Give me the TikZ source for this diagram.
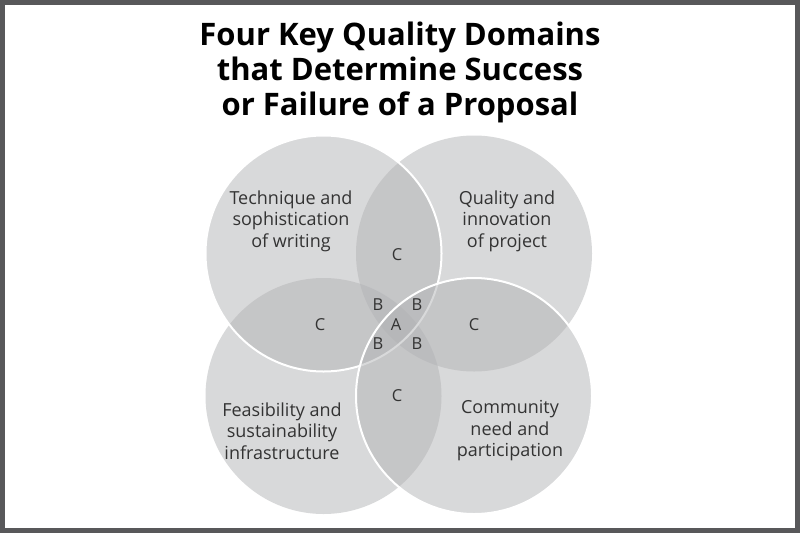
\documentclass[tikz,border=0pt]{standalone}
\usepackage{fontspec}
\setmainfont{Open Sans}
\usetikzlibrary{positioning}
\definecolor{framegray}{HTML}{58585A}
\definecolor{ringgray}{HTML}{B3B4B6}
\definecolor{labelgray}{HTML}{333333}

\begin{document}
\begin{tikzpicture}[x=1pt, y=-1pt,
  qualring/.style={circle, minimum size=236pt, inner sep=0pt,
                   fill=ringgray, fill opacity=0.5},
  edgedring/.style={qualring, draw=white, line width=2pt},
  lbl/.style={align=center, text=labelgray,
              font=\fontsize{18}{21.5}\selectfont},
  zone/.style={text=labelgray, inner sep=1pt,
               font=\fontsize{16.5}{18}\selectfont}]
  % Page and frame
  \fill[white] (0,0) rectangle (800,533);
  \draw[framegray, line width=5pt] (2.5,2.5) rectangle (797.5,530.5);

  % Title
  \node[align=center, font=\bfseries\fontsize{31}{35}\selectfont]
    (title) at (400,72) {Four Key Quality Domains\\
                         that Determine Success\\
                         or Failure of a Proposal};

  % Quality circles (plain ones first, edged ones on top)
  \node[qualring] (tr) at (474,253.5) {};
  \node[qualring] (bl) at (323.5,396) {};
  \node[edgedring] (tl) at (323.5,253.5) {};
  \node[edgedring] (br) at (474,396) {};

  % Circle labels
  \node[lbl] (tltext) at (291,221) {Technique and\\ sophistication\\ of writing};
  \node[lbl] (trtext) at (507,221) {Quality and\\ innovation\\ of project};
  \node[lbl] (bltext) at (282,431) {Feasibility and\\ sustainability\\ infrastructure};
  \node[lbl] (brtext) at (510,431) {Community\\ need and\\ participation};

  % Overlap letters
  \foreach \n/\x/\y in {top/397/255, left/320/325, right/474/325, bottom/397/396}
    \node[zone] (c\n) at (\x,\y) {C};
  \foreach \n/\x/\y in {nw/378/305, ne/417/305, sw/378/344, se/417/344}
    \node[zone] (b\n) at (\x,\y) {B};
  \node[zone] (a) at (396,325) {A};
\end{tikzpicture}
\end{document}
